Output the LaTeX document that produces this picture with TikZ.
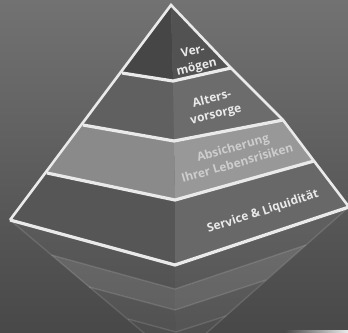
\documentclass[tikz,border=0pt]{standalone}
\usepackage{fontspec}
\setmainfont{Open Sans}
\definecolor{bgLight}{RGB}{114,114,114}
\definecolor{bgDark}{RGB}{72,72,72}
\definecolor{edgeWhite}{RGB}{234,234,234}
\definecolor{topL}{RGB}{70,70,70}
\definecolor{topR}{RGB}{82,82,82}
\definecolor{altL}{RGB}{96,96,96}
\definecolor{altR}{RGB}{108,108,108}
\definecolor{absL}{RGB}{138,138,138}
\definecolor{absR}{RGB}{152,152,152}
\definecolor{absText}{RGB}{205,205,205}
\definecolor{serL}{RGB}{86,86,86}
\definecolor{serR}{RGB}{104,104,104}

\begin{document}
\begin{tikzpicture}[x=1bp, y=-1bp,
    edgeline/.style={draw=edgeWhite, line width=2.6bp, line join=miter},
    bandline/.style={draw=edgeWhite, line width=3.2bp},
    mirrorline/.style={draw=white, draw opacity=0.12, line width=1.4bp},
    tierlabel/.style={text=edgeWhite, font=\bfseries\fontsize{12}{16}\selectfont, align=center, inner sep=0pt}]
    %%%%% START %%%%%

    \useasboundingbox (0,0) rectangle (348,333);
    \shade[shading angle=-45, top color=bgLight, bottom color=bgDark] (0,0) rectangle (348,333);

    % reflection
    \fill[white, opacity=0.03] (10,220) -- (175,265) -- (175,289) -- (51.5,255) -- cycle;
    \fill[white, opacity=0.06] (175,265) -- (349,207) -- (306,245) -- (175,289) -- cycle;
    \fill[white, opacity=0.12] (51.5,255) -- (175,289) -- (175,310) -- (89,287) -- cycle;
    \fill[white, opacity=0.14] (175,289) -- (306,245) -- (266,280) -- (175,310) -- cycle;
    \fill[white, opacity=0.05] (89,287) -- (175,310) -- (176,332) -- (128,319) -- cycle;
    \fill[white, opacity=0.07] (175,310) -- (266,280) -- (226,316) -- (176,332) -- cycle;
    \fill[white, opacity=0.03] (128,319) -- (176,332) -- (176,360) -- cycle;
    \fill[white, opacity=0.04] (176,332) -- (226,316) -- (176,360) -- cycle;
    \draw[mirrorline] (51.5,255) -- (175,289) -- (306,245);
    \draw[mirrorline] (89,287) -- (175,310) -- (266,280);
    \draw[mirrorline] (128,319) -- (176,332) -- (226,316);
    \draw[mirrorline] (10,220) -- (176,360) -- (349,207);

    % Vermoegen
    \fill[topL] (171,5) -- (122,73) -- (173,81) -- cycle;
    \fill[topR] (171,5) -- (173,81) -- (231,68) -- cycle;
    % Altersvorsorge
    \fill[altL] (122,73) -- (83,125) -- (174,141) -- (173,81) -- cycle;
    \fill[altR] (173,81) -- (174,141) -- (283,120) -- (231,68) -- cycle;
    % Absicherung
    \fill[absL] (83,125) -- (47,173) -- (175,200) -- (174,141) -- cycle;
    \fill[absR] (174,141) -- (175,200) -- (314,161) -- (283,120) -- cycle;
    % Service
    \fill[serL] (47,173) -- (10,220) -- (175,265) -- (175,200) -- cycle;
    \fill[serR] (175,200) -- (175,265) -- (349,207) -- (314,161) -- cycle;

    \draw[bandline] (122,73) -- (173,81) -- (231,68);
    \draw[bandline] (83,125) -- (174,141) -- (283,120);
    \draw[bandline] (47,173) -- (175,200) -- (314,161);
    \draw[bandline] (10,220) -- (175,265) -- (349,207);
    \draw[edgeline] (10,220) -- (171,5) -- (231,68) -- (283,120) -- (314,161) -- (349,207);

    \node[tierlabel, rotate=13] (vermoegen) at (195,60) {Ver-\\mögen};
    \node[tierlabel, rotate=14] (vorsorge) at (214,107) {Alters-\\vorsorge};
    \node[tierlabel, rotate=16, text=absText] (absicherung) at (235,155) {Absicherung\\Ihrer Lebensrisiken};
    \node[tierlabel, rotate=18] (service) at (263,212) {Service \& Liquidität};

    \shade[left color=bgDark, right color=edgeWhite] (285,330.5) rectangle (348,333);

    %%%%% END %%%%%
\end{tikzpicture}
\end{document}
